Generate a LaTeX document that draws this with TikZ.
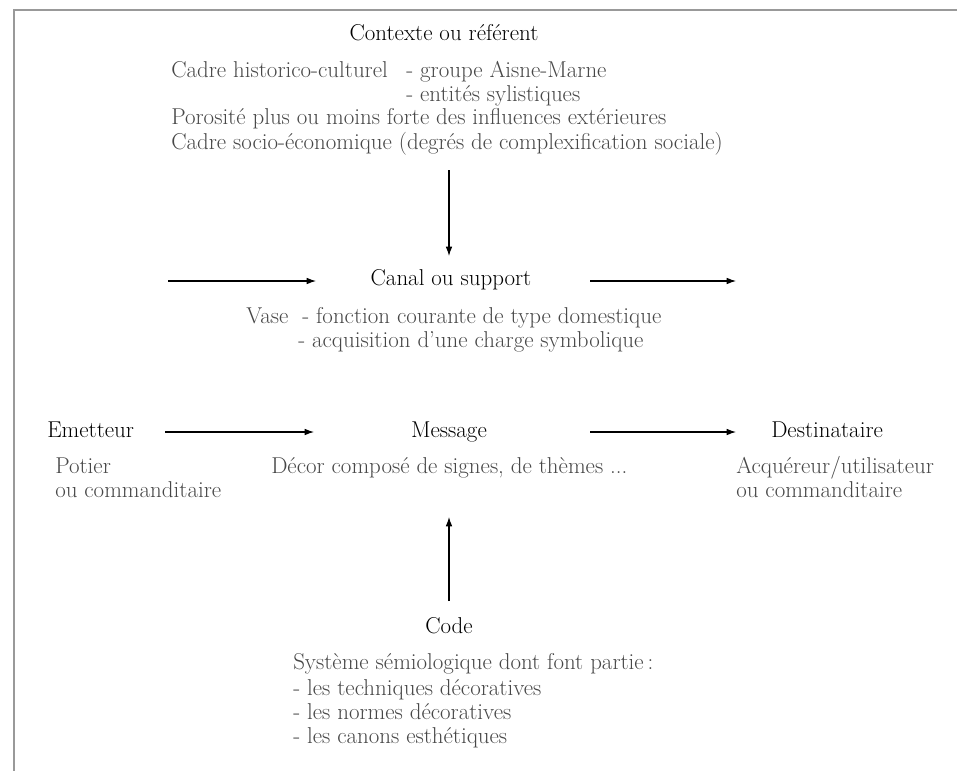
\documentclass[tikz,border=0pt]{standalone}
\usepackage{amsmath,amsfonts}
\usetikzlibrary{arrows.meta}

\tikzset{
  head/.style={anchor=base,inner sep=0.75pt,text=black,font=\fontsize{17.2}{20}\selectfont},
  body/.style={anchor=base west,inner sep=0.75pt,text=black!72,font=\fontsize{17.2}{20}\selectfont},
  flow/.style={line width=0.8pt,-{Latex[length=7pt,width=5pt]}}
}

\begin{document}
\begin{tikzpicture}[x=0.75pt,y=0.75pt,yscale=-1,xscale=1]
\useasboundingbox (0,0) rectangle (957,771);

%Frame
\draw [black!40,line width=1pt] (957,10) -- (14,10) -- (14,771) ;

% Contexte
\node [head] (contexte) at (444,40) {Contexte ou référent};
\node [body] (cadre) at (170,77) {Cadre historico-culturel};
\node [body] (aisne) at (405,77) {- groupe Aisne-Marne};
\node [body] (entites) at (405,101) {- entités sylistiques};
\node [body] (porosite) at (170,124) {Porosité plus ou moins forte des influences extérieures};
\node [body] (socio) at (170,149) {Cadre socio-économique (degrés de complexification sociale)};

% Canal
\node [head] (canal) at (451,285) {Canal ou support};
\node [body] (vase) at (245,323) {Vase\ \ - fonction courante de type domestique};
\node [body] (charge) at (297,347) {- acquisition d'une charge symbolique};

% Emetteur, message, destinataire
\node [head,anchor=base west] (emetteur) at (46,437) {Emetteur};
\node [head] (message) at (449,437) {Message};
\node [head,anchor=base west] (destinataire) at (770,437) {Destinataire};
\node [body] (potier) at (54,473) {Potier};
\node [body] (commande) at (54,497) {ou commanditaire};
\node [body] (decor) at (270,473) {Décor composé de signes, de thèmes ...};
\node [body] (acquereur) at (735,473) {Acquéreur/utilisateur};
\node [body] (commande2) at (735,497) {ou commanditaire};

% Code
\node [head] (code) at (449,633) {Code};
\node [body] (systeme) at (292,669) {Système sémiologique dont font partie\,:};
\node [body] (techniques) at (292,695) {- les techniques décoratives};
\node [body] (normes) at (292,719) {- les normes décoratives};
\node [body] (canons) at (292,743) {- les canons esthétiques};

% arrow ends
\coordinate (canal-in0) at (168,281);
\coordinate (canal-in1) at (316,281);
\coordinate (canal-out0) at (590,281);
\coordinate (canal-out1) at (736,281);
\coordinate (emet-out) at (165,432);
\coordinate (mess-in) at (314,432);
\coordinate (mess-out) at (590,432);
\coordinate (dest-in) at (736,432);

\draw [flow] (449,170) -- (449,256) ;
\draw [flow] (canal-in0) -- (canal-in1) ;
\draw [flow] (canal-out0) -- (canal-out1) ;
\draw [flow] (emet-out) -- (mess-in) ;
\draw [flow] (mess-out) -- (dest-in) ;
\draw [flow] (449,601) -- (449,517) ;

\end{tikzpicture}
\end{document}
